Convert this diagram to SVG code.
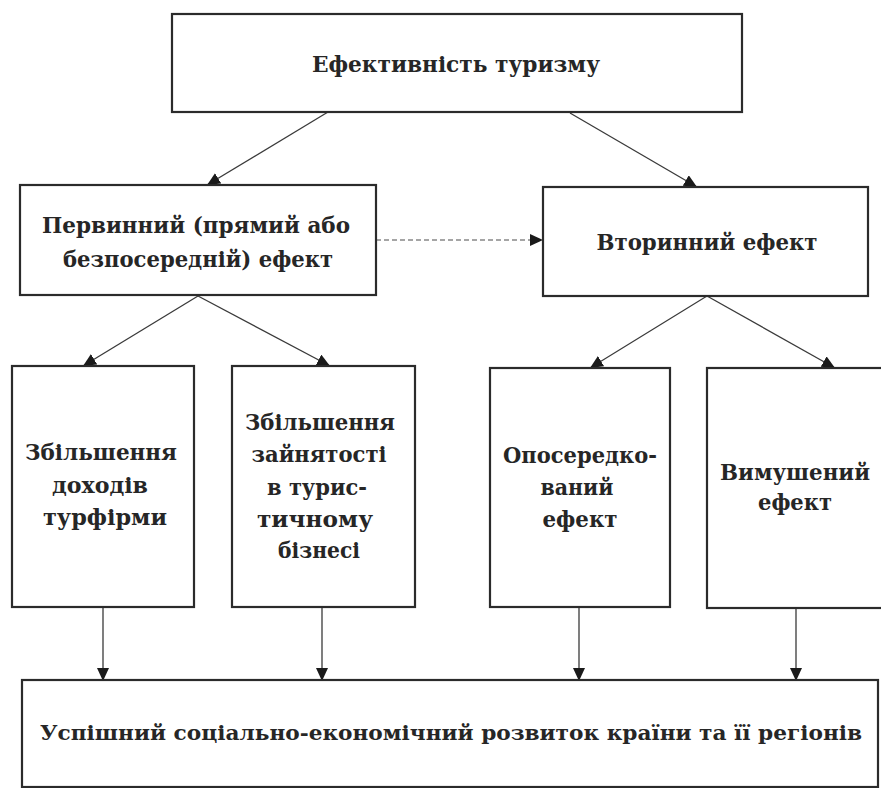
<svg xmlns="http://www.w3.org/2000/svg" width="881" height="788" viewBox="0 0 881 788">
<defs>
<marker id="ah" markerUnits="userSpaceOnUse" markerWidth="15" markerHeight="13" refX="13" refY="6" orient="auto">
<path d="M0,0 L13,6 L0,12 z" fill="#1a1a1a"/>
</marker>
<style>
.box{fill:#fff;stroke:#2b2b2b;stroke-width:2.2}
.t{font-family:"DejaVu Serif","Liberation Serif",serif;font-weight:bold;font-size:23px;fill:#262626;text-anchor:middle}
.s{font-size:20px}
.c{fill:none;stroke:#3a3a3a;stroke-width:1.3;marker-end:url(#ah)}
.d{fill:none;stroke:#888;stroke-width:1.3;stroke-dasharray:5,3;marker-end:url(#ah)}
</style>
</defs>
<rect width="881" height="788" fill="#fff"/>
<g id="connectors">
<line class="c" x1="328" y1="112" x2="207" y2="185"/>
<line class="c" x1="570" y1="113" x2="697" y2="187"/>
<line class="d" x1="376" y1="240" x2="543" y2="240"/>
<line class="c" x1="198" y1="296" x2="83" y2="366"/>
<line class="c" x1="198" y1="296" x2="330" y2="366"/>
<line class="c" x1="707" y1="296" x2="590" y2="368"/>
<line class="c" x1="707" y1="296" x2="835" y2="368"/>
<line class="c" x1="103" y1="607" x2="103" y2="681"/>
<line class="c" x1="322" y1="607" x2="322" y2="681"/>
<line class="c" x1="579" y1="607" x2="579" y2="681"/>
<line class="c" x1="796" y1="608" x2="796" y2="681"/>
</g>
<g id="n-top">
<rect class="box" x="172" y="14" width="570" height="98"/>
<text class="t" x="456" y="72" textLength="288" lengthAdjust="spacingAndGlyphs">Ефективність туризму</text>
</g>
<g id="n-primary">
<rect class="box" x="20" y="185" width="356" height="110"/>
<text class="t" x="196" y="233" textLength="308" lengthAdjust="spacingAndGlyphs">Первинний (прямий або</text>
<text class="t" x="198" y="267" textLength="270" lengthAdjust="spacingAndGlyphs">безпосередній) ефект</text>
</g>
<g id="n-secondary">
<rect class="box" x="543" y="187" width="325" height="109"/>
<text class="t" x="707" y="250" textLength="221" lengthAdjust="spacingAndGlyphs">Вторинний ефект</text>
</g>
<g id="n-income">
<rect class="box" x="12" y="366" width="182" height="241"/>
<text class="t" x="101" y="460" textLength="152" lengthAdjust="spacingAndGlyphs">Збільшення</text>
<text class="t" x="100" y="493" textLength="96" lengthAdjust="spacingAndGlyphs">доходів</text>
<text class="t" x="105" y="525" textLength="124" lengthAdjust="spacingAndGlyphs">турфірми</text>
</g>
<g id="n-employment">
<rect class="box" x="232" y="366" width="183" height="241"/>
<text class="t" x="320" y="430" textLength="150" lengthAdjust="spacingAndGlyphs">Збільшення</text>
<text class="t" x="319" y="462" textLength="135" lengthAdjust="spacingAndGlyphs">зайнятості</text>
<text class="t" x="317" y="495" textLength="100" lengthAdjust="spacingAndGlyphs">в турис-</text>
<text class="t" x="315" y="527" textLength="116" lengthAdjust="spacingAndGlyphs">тичному</text>
<text class="t" x="319" y="558" textLength="82" lengthAdjust="spacingAndGlyphs">бізнесі</text>
</g>
<g id="n-indirect">
<rect class="box" x="490" y="368" width="180" height="239"/>
<text class="t" x="580" y="463" textLength="154" lengthAdjust="spacingAndGlyphs">Опосередко-</text>
<text class="t" x="577" y="495" textLength="73" lengthAdjust="spacingAndGlyphs">ваний</text>
<text class="t" x="580" y="527" textLength="75" lengthAdjust="spacingAndGlyphs">ефект</text>
</g>
<g id="n-induced">
<rect class="box" x="707" y="368" width="185" height="240"/>
<text class="t" x="795" y="480" textLength="150" lengthAdjust="spacingAndGlyphs">Вимушений</text>
<text class="t" x="795" y="510" textLength="74" lengthAdjust="spacingAndGlyphs">ефект</text>
</g>
<g id="n-result">
<rect class="box" x="22" y="680" width="856" height="107"/>
<text class="t s" x="451" y="740" textLength="822" lengthAdjust="spacingAndGlyphs">Успішний соціально-економічний розвиток країни та її регіонів</text>
</g>
</svg>
